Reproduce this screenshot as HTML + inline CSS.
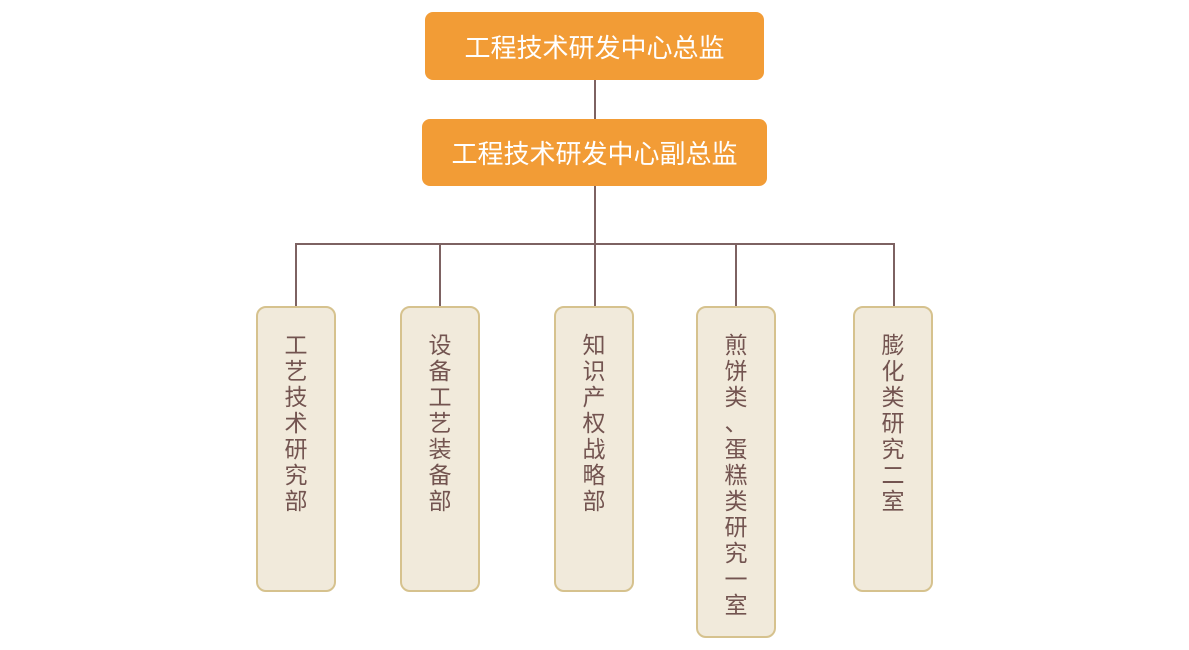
<!DOCTYPE html><html><head><meta charset="utf-8"><style>
body{margin:0;width:1189px;height:650px;background:#fff;position:relative;font-family:"Liberation Sans","Noto Sans CJK SC",sans-serif;overflow:hidden}
.o{position:absolute;background:#f29c36;border-radius:8px;color:#fff;font-size:26px;display:flex;align-items:center;justify-content:center}
.l{position:absolute;background:#7d6262}
.c{position:absolute;top:306px;width:80px;background:#f1eadb;border:2px solid #d6c28e;border-radius:10px;color:#735450;font-size:23px;line-height:26px;text-align:center;box-sizing:border-box;padding-top:24px}
.c span{display:block}
</style></head><body>
<div class="o" style="left:425px;top:12px;width:339px;height:68px">工程技术研发中心总监</div>
<div class="o" style="left:422px;top:119px;width:345px;height:67px">工程技术研发中心副总监</div>
<div class="l" style="left:594px;top:80px;width:2px;height:39px"></div>
<div class="l" style="left:594px;top:186px;width:2px;height:58px"></div>
<div class="l" style="left:295px;top:243px;width:600px;height:2px"></div>
<div class="l" style="left:295px;top:243px;width:2px;height:63px"></div>
<div class="l" style="left:439px;top:243px;width:2px;height:63px"></div>
<div class="l" style="left:594px;top:243px;width:2px;height:63px"></div>
<div class="l" style="left:735px;top:243px;width:2px;height:63px"></div>
<div class="l" style="left:893px;top:243px;width:2px;height:63px"></div>
<div class="c" style="left:256px;height:286px"><span>工</span><span>艺</span><span>技</span><span>术</span><span>研</span><span>究</span><span>部</span></div>
<div class="c" style="left:400px;height:286px"><span>设</span><span>备</span><span>工</span><span>艺</span><span>装</span><span>备</span><span>部</span></div>
<div class="c" style="left:554px;height:286px"><span>知</span><span>识</span><span>产</span><span>权</span><span>战</span><span>略</span><span>部</span></div>
<div class="c" style="left:696px;height:332px"><span>煎</span><span>饼</span><span>类</span><span>、</span><span>蛋</span><span>糕</span><span>类</span><span>研</span><span>究</span><span>一</span><span>室</span></div>
<div class="c" style="left:853px;height:286px"><span>膨</span><span>化</span><span>类</span><span>研</span><span>究</span><span>二</span><span>室</span></div>
</body></html>
